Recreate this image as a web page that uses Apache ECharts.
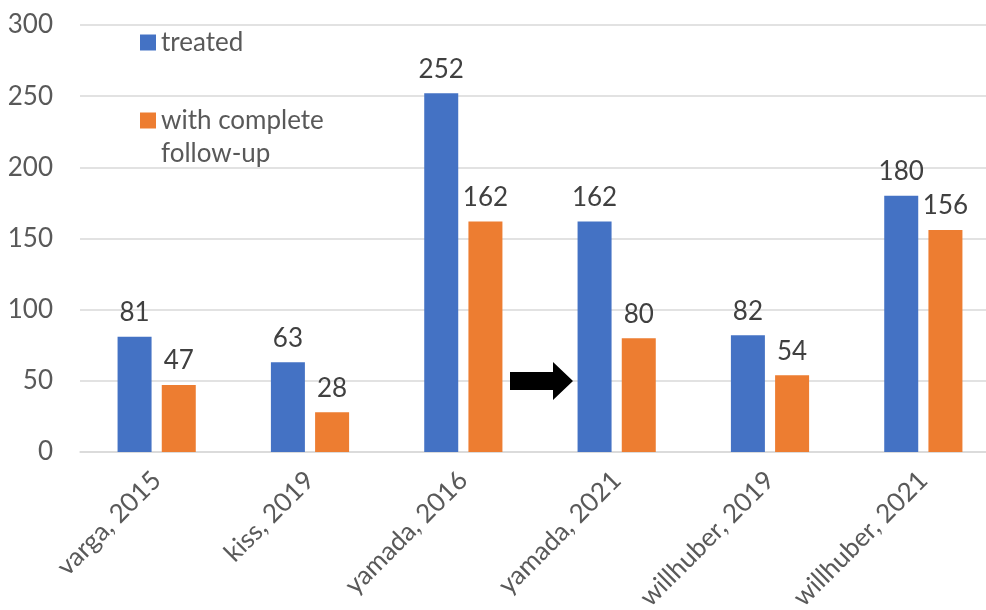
<!DOCTYPE html>
<html>
<head>
<meta charset="utf-8">
<script src="https://cdn.jsdelivr.net/npm/echarts@6/dist/echarts.min.js"></script>
<style>
  html, body { margin: 0; padding: 0; background: #fff; }
  #chart { width: 986px; height: 610px; }
</style>
</head>
<body>
<div id="chart"></div>
<script>
const studies = ["varga, 2015", "kiss, 2019", "yamada, 2016", "yamada, 2021", "willhuber, 2019", "willhuber, 2021"];
const treated = [81, 63, 252, 162, 82, 180];
const completeFollowUp = [47, 28, 162, 80, 54, 156];
const yTicks = { min: 0, max: 300, interval: 50 };

const FONT = "Lato, 'Open Sans', sans-serif";
const BLUE = "#4472c4";
const ORANGE = "#ed7d31";

const chart = echarts.init(document.getElementById("chart"), null, { renderer: "canvas" });

chart.setOption({
  animation: false,
  textStyle: { fontFamily: FONT },
  grid: { left: 80, width: 920, top: 25, bottom: 158, containLabel: false, outerBoundsMode: "none" },
  legend: [
    {
      data: ["treated"],
      left: 140,
      top: 26,
      padding: 0,
      itemWidth: 16,
      itemHeight: 16,
      itemGap: 0,
      icon: "rect",
      textStyle: { fontFamily: FONT, fontSize: 26, color: "#595959", lineHeight: 33 }
    },
    {
      data: ["with complete follow-up"],
      left: 140,
      top: 71,
      padding: 0,
      itemWidth: 16,
      itemHeight: 16,
      icon: "rect",
      formatter: () => "\nwith complete\nfollow-up",
      textStyle: { fontFamily: FONT, fontSize: 26, color: "#595959", lineHeight: 33 }
    }
  ],
  xAxis: {
    type: "category",
    data: studies,
    axisLine: { lineStyle: { color: "#d9d9d9", width: 1.5 } },
    axisTick: { show: false },
    axisLabel: {
      rotate: 45,
      margin: 24,
      fontFamily: FONT,
      fontSize: 26,
      color: "#595959",
      interval: 0
    }
  },
  yAxis: {
    type: "value",
    min: yTicks.min,
    max: yTicks.max,
    interval: yTicks.interval,
    axisLine: { show: false },
    axisTick: { show: false },
    splitLine: { lineStyle: { color: "#d9d9d9", width: 1.5 } },
    axisLabel: { margin: 27, fontFamily: FONT, fontSize: 26, color: "#595959" }
  },
  series: [
    {
      name: "treated",
      type: "bar",
      data: treated,
      barWidth: 34,
      barGap: "30%",
      itemStyle: { color: BLUE },
      label: { show: true, position: "top", distance: 11, fontFamily: FONT, fontSize: 26, color: "#404040" }
    },
    {
      name: "with complete follow-up",
      type: "bar",
      data: completeFollowUp,
      barWidth: 34,
      itemStyle: { color: ORANGE },
      label: { show: true, position: "top", distance: 11, fontFamily: FONT, fontSize: 26, color: "#404040" }
    }
  ],
  graphic: [
    {
      type: "polygon",
      z: 100,
      shape: {
        points: [[510, 372], [553, 372], [553, 362], [573, 381], [553, 400], [553, 390], [510, 390]]
      },
      style: { fill: "#000" }
    }
  ]
});
</script>
</body>
</html>
